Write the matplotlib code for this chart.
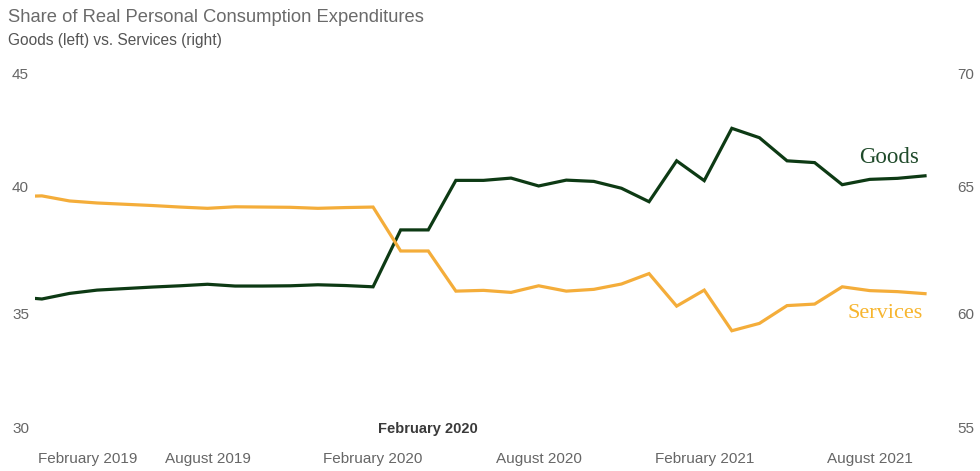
import matplotlib
matplotlib.use("Agg")
import matplotlib.pyplot as plt
import matplotlib.transforms as mtransforms

# Monthly series, January 2019 through October 2021
months = [
    "Jan 2019", "Feb 2019", "Mar 2019", "Apr 2019", "May 2019", "Jun 2019",
    "Jul 2019", "Aug 2019", "Sep 2019", "Oct 2019", "Nov 2019", "Dec 2019",
    "Jan 2020", "Feb 2020", "Mar 2020", "Apr 2020", "May 2020", "Jun 2020",
    "Jul 2020", "Aug 2020", "Sep 2020", "Oct 2020", "Nov 2020", "Dec 2020",
    "Jan 2021", "Feb 2021", "Mar 2021", "Apr 2021", "May 2021", "Jun 2021",
    "Jul 2021", "Aug 2021", "Sep 2021", "Oct 2021",
]

# Goods share of real PCE (left axis, %)
goods = [
    35.72, 35.63, 35.85, 35.98, 36.04, 36.10, 36.15, 36.21, 36.14, 36.14,
    36.15, 36.19, 36.16, 36.11, 38.35, 38.35, 40.30, 40.30, 40.39, 40.08,
    40.31, 40.26, 39.99, 39.46, 41.07, 40.29, 42.35, 41.98, 41.07, 41.00,
    40.13, 40.34, 40.38, 40.48,
]

# Services share of real PCE (right axis, %)
services = [
    64.66, 64.69, 64.49, 64.41, 64.36, 64.31, 64.25, 64.20, 64.26, 64.25,
    64.24, 64.20, 64.23, 64.25, 62.52, 62.52, 60.94, 60.97, 60.89, 61.15,
    60.94, 61.01, 61.22, 61.63, 60.35, 60.98, 59.38, 59.67, 60.37, 60.43,
    61.11, 60.96, 60.92, 60.84,
]

left_ticks = [30, 35, 40, 45]
right_ticks = [55, 60, 65, 70]

x_tick_months = ["Feb 2019", "Aug 2019", "Feb 2020", "Aug 2020", "Feb 2021", "Aug 2021"]
x_tick_labels = ["February 2019", "August 2019", "February 2020",
                 "August 2020", "February 2021", "August 2021"]
highlight_month = "Feb 2020"
highlight_label = "February 2020"

GOODS_COLOR = "#0d3a14"
SERVICES_COLOR = "#f4ad3a"
TEXT_GRAY = "#666666"
TICK_SIZE = 11

plt.rcParams["font.family"] = ["Liberation Sans", "DejaVu Sans"]

fig = plt.figure(figsize=(9.8, 4.71), dpi=100)
ax = fig.add_axes([0.03571, 0.06157, 0.9110, 0.80892])
ax2 = ax.twinx()

xs = list(range(len(months)))
ax.plot(xs, goods, color=GOODS_COLOR, lw=2.3, solid_joinstyle="miter")
ax2.plot(xs, services, color=SERVICES_COLOR, lw=2.3, solid_joinstyle="miter")

ax.set_xlim(0.75, 33.1)
ax.set_ylim(left_ticks[0], left_ticks[-1])
ax2.set_ylim(right_ticks[0], right_ticks[-1])

for a in (ax, ax2):
    for s in a.spines.values():
        s.set_visible(False)
    a.set_xticks([])
    a.set_yticks([])
    a.patch.set_alpha(0)

# Y-axis labels (end labels pulled inside the plotting area)
def ylab_offset(val, ticks):
    if val == ticks[-1]:
        return -14
    if val == ticks[0]:
        return 13
    return 0

for v in left_ticks:
    tr = mtransforms.blended_transform_factory(fig.transFigure, ax.transData)
    tr = mtransforms.offset_copy(tr, fig=fig, y=ylab_offset(v, left_ticks), units="dots")
    fig.text(12 / 980, v, f"{v}", transform=tr, ha="left", va="center",
             fontsize=TICK_SIZE, color=TEXT_GRAY)

for v in right_ticks:
    tr = mtransforms.blended_transform_factory(fig.transFigure, ax2.transData)
    tr = mtransforms.offset_copy(tr, fig=fig, y=ylab_offset(v, right_ticks), units="dots")
    fig.text(974 / 980, v, f"{v}", transform=tr, ha="right", va="center",
             fontsize=TICK_SIZE, color=TEXT_GRAY)

# X-axis labels
xtr = mtransforms.blended_transform_factory(ax.transData, ax.transAxes)
xtr = mtransforms.offset_copy(xtr, fig=fig, y=-17, units="dots")
for i, (m, lab) in enumerate(zip(x_tick_months, x_tick_labels)):
    xi = months.index(m)
    if i == 0:
        ax.text(ax.get_xlim()[0], 0, lab, transform=mtransforms.offset_copy(
            xtr, fig=fig, x=3, units="dots"), ha="left", va="center",
            fontsize=TICK_SIZE, color=TEXT_GRAY, clip_on=False)
    else:
        ax.text(xi, 0, lab, transform=xtr, ha="center", va="center",
                fontsize=TICK_SIZE, color=TEXT_GRAY, clip_on=False)

# Highlighted month marker label
htr = mtransforms.blended_transform_factory(ax.transData, ax.transAxes)
htr = mtransforms.offset_copy(htr, fig=fig, x=5, y=13, units="dots")
ax.text(months.index(highlight_month), 0, highlight_label, transform=htr,
        ha="left", va="center", fontsize=10.5, fontweight="bold",
        color="#3a3a3a", clip_on=False)

# Series labels
lab_tr = mtransforms.offset_copy(ax.transData, fig=fig, x=-6, y=18, units="dots")
ax.text(xs[-1], goods[-1], "Goods", transform=lab_tr, ha="right", va="center",
        fontsize=16.5, family=["Liberation Serif", "DejaVu Serif"],
        color="#1f4a2a", clip_on=False)
lab_tr2 = mtransforms.offset_copy(ax2.transData, fig=fig, x=-2, y=-20, units="dots")
ax2.text(xs[-1], services[-1], "Services", transform=lab_tr2, ha="right",
         va="center", fontsize=16, family=["Liberation Serif", "DejaVu Serif"],
         color="#f7b52e", clip_on=False)

# Title block
fig.text(8 / 980, 1 - 17 / 471, "Share of Real Personal Consumption Expenditures",
         ha="left", va="center", fontsize=13.2, color="#6a6a6a")
fig.text(8 / 980, 1 - 40 / 471, "Goods (left) vs. Services (right)",
         ha="left", va="center", fontsize=11.2, color="#555555")

fig.savefig("out.png", dpi=100, facecolor="white")
